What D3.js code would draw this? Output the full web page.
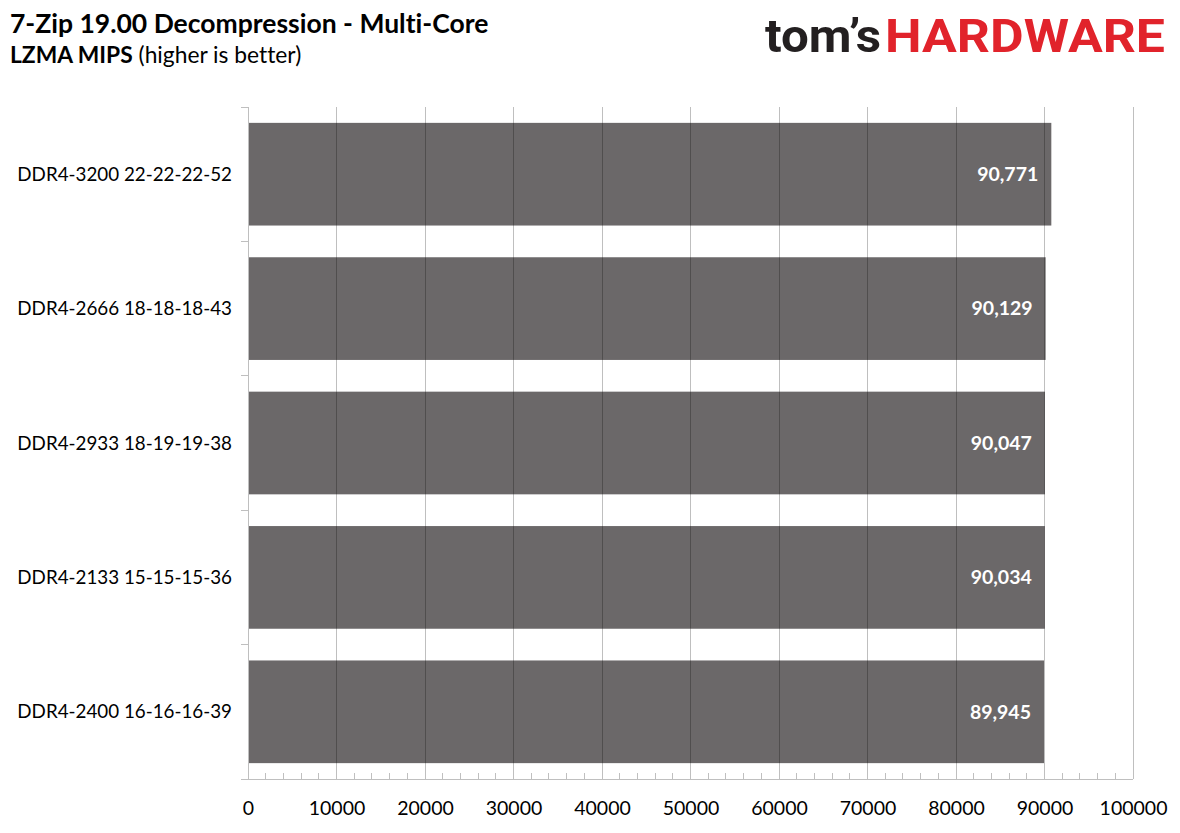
<!DOCTYPE html>
<html><head><meta charset="utf-8">
<script src="https://cdn.jsdelivr.net/npm/d3@7"></script>
<style>body{margin:0;background:#fff}svg{display:block}text{font-variant-ligatures:none;font-feature-settings:"liga" 0}</style>
</head><body>
<svg id="c" width="1180" height="833"></svg>
<script>
const categories = ["DDR4-3200 22-22-22-52","DDR4-2666 18-18-18-43","DDR4-2933 18-19-19-38","DDR4-2133 15-15-15-36","DDR4-2400 16-16-16-39"];
const values = [90771, 90129, 90047, 90034, 89945];
const xTicks = [0,10000,20000,30000,40000,50000,60000,70000,80000,90000,100000];

const svg = d3.select("#c");
const font = "Lato, 'Open Sans', sans-serif";
const x = d3.scaleLinear().domain([0,100000]).range([248,1133]);
const y = d3.scaleBand().domain(categories).range([107,779]).paddingInner(0.236).paddingOuter(0.118);

// title
svg.append("text").attr("x",10).attr("y",33).attr("font-family",font).attr("font-weight","bold")
  .attr("font-size",26.5).attr("fill","#000").text("7-Zip 19.00 Decompression - Multi-Core");
const st = svg.append("text").attr("x",10).attr("y",63).attr("font-family",font).attr("font-size",22.8).attr("fill","#000");
st.append("tspan").attr("font-weight","bold").text("LZMA MIPS");
st.append("tspan").text(" (higher is better)");

// logo
svg.append("text").attr("x",765).attr("y",52).attr("font-family","Roboto, sans-serif").attr("font-weight","bold")
  .attr("font-size",47).attr("fill","#231f20").attr("textLength",116).attr("lengthAdjust","spacingAndGlyphs").text("tom’s");
svg.append("text").attr("x",885).attr("y",52).attr("font-family","Roboto, sans-serif").attr("font-weight","bold")
  .attr("font-size",47).attr("fill","#e1232b").attr("textLength",280).attr("lengthAdjust","spacingAndGlyphs").text("HARDWARE");

// bars
svg.append("g").selectAll("rect").data(categories).join("rect")
  .attr("x",x(0)).attr("y",d=>y(d)).attr("height",y.bandwidth())
  .attr("width",(d,i)=>x(values[i])-x(0)).attr("fill","#6b6869");

// gridlines on top
svg.append("g").selectAll("line").data(xTicks.slice(1)).join("line")
  .attr("x1",d=>x(d)).attr("x2",d=>x(d)).attr("y1",107).attr("y2",779)
  .attr("stroke","#000").attr("stroke-opacity",0.25).attr("stroke-width",1).attr("shape-rendering","crispEdges");

// bottom axis
const xa = svg.append("g").attr("transform","translate(0,779)")
  .call(d3.axisBottom(x).tickValues(xTicks).tickFormat(d3.format("d")).tickSize(0).tickPadding(22));
xa.select(".domain").remove();
xa.selectAll("text").attr("font-family",font).attr("font-size",19.5).attr("fill","#000");
svg.append("line").attr("x1",241).attr("x2",1133).attr("y1",779).attr("y2",779).attr("stroke","#bfbfbf").attr("shape-rendering","crispEdges");
const minor = d3.range(0,100001,2000).filter(v=>v%10000!==0);
svg.append("g").selectAll("line").data(minor).join("line")
  .attr("x1",d=>x(d)).attr("x2",d=>x(d)).attr("y1",773).attr("y2",779)
  .attr("stroke","#bfbfbf").attr("shape-rendering","crispEdges");

// left axis
svg.append("line").attr("x1",248).attr("x2",248).attr("y1",107).attr("y2",779).attr("stroke","#bfbfbf").attr("shape-rendering","crispEdges");
const bounds = categories.map(c=>y(c)-y.step()*y.paddingInner()/2);
svg.append("g").selectAll("line").data(bounds).join("line")
  .attr("x1",241).attr("x2",248).attr("y1",d=>d).attr("y2",d=>d)
  .attr("stroke","#bfbfbf").attr("shape-rendering","crispEdges");

// category labels
svg.append("g").selectAll("text").data(categories).join("text")
  .attr("x",232).attr("y",d=>y(d)+y.bandwidth()/2).attr("dy","0.35em").attr("text-anchor","end")
  .attr("font-family",font).attr("font-size",18.8).attr("fill","#000").text(d=>d);

// value labels
svg.append("g").selectAll("text").data(categories).join("text")
  .attr("x",(d,i)=>x(values[i])-13).attr("y",d=>y(d)+y.bandwidth()/2).attr("dy","0.35em").attr("text-anchor","end")
  .attr("font-family",font).attr("font-weight","bold").attr("font-size",19.5).attr("fill","#fff")
  .text((d,i)=>d3.format(",")(values[i]));
</script>
</body></html>
